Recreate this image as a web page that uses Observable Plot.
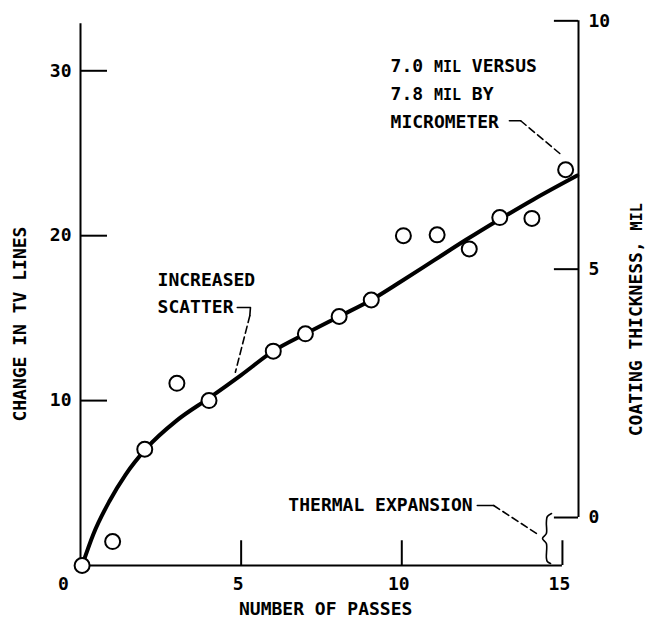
<!DOCTYPE html>
<html><head><meta charset="utf-8">
<script src="https://cdn.jsdelivr.net/npm/d3@7"></script>
<script src="https://cdn.jsdelivr.net/npm/@observablehq/plot@0.6"></script>
<style>body{margin:0;background:#fff} svg{display:block}</style>
</head><body><div id="chart"></div>
<script>
// Measured data
const passes  = [0.05, 1, 2, 3, 4, 6, 7, 8.05, 9.05, 10.05, 11.1, 12.1, 13.05, 14.05, 15.1];
const tvLines = [0, 1.45, 7.05, 11.05, 10.0, 13.0, 14.05, 15.1, 16.1, 20.0, 20.05, 19.2, 21.1, 21.05, 24.0];
// Fitted curve
const fitPasses = [0.05, 0.4, 0.9, 1.4, 2.05, 3.0, 4.0, 5.0, 6.0, 7.0, 8.05, 9.05, 10.0, 11.0, 12.0, 13.05, 14.1, 15.46];
const fitTv     = [0, 1.9, 3.9, 5.5, 7.1, 8.8, 10.15, 11.55, 13.0, 14.05, 15.1, 16.1, 17.25, 18.5, 19.75, 21.0, 22.2, 23.65];
// Axes
const xMax = 15.5, yMax = 33.05, yAxisTop = 32.85;
const xTicks = [5, 10, 15];
const xTickLabels = [0, 5, 10, 15];
const yTicks = [10, 20, 30];
const milTicks = [0, 5, 10];
const milZeroTv = 2.91, tvPerMil = 3.012;   // right axis: coating thickness, mil
const tickLenX = 0.84, tickLenY = 1.5, tickLenR = 0.75;
const xTitle = "NUMBER OF PASSES";
const yTitle = "CHANGE IN TV LINES";
const y2Title = "COATING THICKNESS, MIL";
// Annotations
const noteText = ["INCREASED", "SCATTER", "7.0 MIL VERSUS", "7.8 MIL BY", "MICROMETER", "THERMAL EXPANSION"];
const noteX = [2.4, 2.4, 9.65, 9.65, 9.65, 6.47];
const noteY = [17.3, 15.67, 30.28, 28.55, 26.9, 3.64];
const leaderSolid = [
  {x: [4.88, 5.29, 5.27], y: [15.65, 15.65, 15.15]},
  {x: [13.35, 13.7], y: [26.97, 26.97]},
  {x: [12.35, 12.86], y: [3.64, 3.64]}
];
const leaderDashed = [
  {x: [5.27, 4.82], y: [15.15, 11.72]},
  {x: [13.7, 15.0], y: [26.97, 24.85]},
  {x: [12.86, 14.21], y: [3.64, 1.92]}
];
const braceX = [14.66, 14.53, 14.5, 14.5, 14.38, 14.5, 14.5, 14.53, 14.63];
const braceY = [3.15, 2.97, 2.61, 1.94, 1.64, 1.33, 0.48, 0.24, 0.12];

const points = passes.map((x, i) => ({x, y: tvLines[i]}));
const fit = fitPasses.map((x, i) => ({x, y: fitTv[i]}));
const notes = noteText.map((t, i) => ({t, x: noteX[i], y: noteY[i]}));
const toSeg = arr => arr.flatMap((s, k) => s.x.map((x, i) => ({x, y: s.y[i], k})));
const brace = braceX.map((x, i) => ({x, y: braceY[i]}));
const milToTv = m => milZeroTv + m * tvPerMil;

const font = "DejaVu Sans Mono, monospace";
const fw = "bold";
const chart = Plot.plot({
  width: 645, height: 626,
  marginLeft: 80, marginRight: 67, marginTop: 20, marginBottom: 61,
  x: {domain: [0, xMax], axis: null},
  y: {domain: [0, yMax], axis: null},
  style: {fontFamily: font, fontSize: "18px", color: "black", background: "white"},
  marks: [
    // left axis
    Plot.ruleX([0], {y1: 0, y2: yAxisTop, strokeWidth: 2}),
    Plot.ruleY(yTicks, {y: d => d, x1: 0, x2: tickLenX, strokeWidth: 2}),
    Plot.text(yTicks, {y: d => d, frameAnchor: "left", textAnchor: "end", dx: -9, text: d => String(d), fontSize: 18, fontWeight: fw}),
    // bottom axis
    Plot.ruleY([0], {x1: 0, x2: 15, strokeWidth: 2}),
    Plot.ruleX(xTicks, {x: d => d, y1: 0, y2: tickLenY, strokeWidth: 2}),
    Plot.text(xTickLabels.filter(d => d === 0), {x: d => d, frameAnchor: "bottom", textAnchor: "middle", dy: 24, dx: -17, text: d => String(d), fontSize: 18, fontWeight: fw}),
    Plot.text(xTickLabels.filter(d => d !== 0), {x: d => d, frameAnchor: "bottom", textAnchor: "middle", dy: 24, dx: -3, text: d => String(d), fontSize: 18, fontWeight: fw}),
    // right axis (coating thickness)
    Plot.ruleX([xMax], {y1: milToTv(0), y2: milToTv(10), strokeWidth: 2}),
    Plot.ruleY(milTicks, {y: d => milToTv(d), x1: xMax - tickLenR, x2: xMax, strokeWidth: 2}),
    Plot.text(milTicks, {y: d => milToTv(d), frameAnchor: "right", textAnchor: "start", dx: 10, text: d => String(d), fontSize: 18, fontWeight: fw}),
    // axis titles
    Plot.text([xTitle], {frameAnchor: "bottom", textAnchor: "middle", x: 7.63, dy: 49, fontSize: 18, fontWeight: fw}),
    Plot.text([yTitle], {frameAnchor: "left", textAnchor: "middle", y: 14.64, dx: -60, rotate: -90, fontSize: 18, fontWeight: fw}),
    Plot.text([y2Title], {frameAnchor: "right", textAnchor: "middle", y: 14.9, dx: 58, rotate: -90, fontSize: 18, fontWeight: fw}),
    // curve and points
    Plot.line(fit, {x: "x", y: "y", curve: "monotone-x", strokeWidth: 4}),
    Plot.dot(points, {x: "x", y: "y", r: 7.5, fill: "white", stroke: "black", strokeWidth: 2}),
    // annotations
    Plot.text(notes, {x: "x", y: "y", text: "t", textAnchor: "start", fontSize: 18, fontWeight: fw}),
    Plot.line(toSeg(leaderSolid), {x: "x", y: "y", z: "k", strokeWidth: 1.6}),
    Plot.line(toSeg(leaderDashed), {x: "x", y: "y", z: "k", strokeWidth: 1.6, strokeDasharray: "7,4"}),
    Plot.line(brace, {x: "x", y: "y", curve: "catmull-rom", strokeWidth: 1.6})
  ]
});

// small capitals for the unit "MIL"
chart.querySelectorAll("text").forEach(t => {
  const spans = t.querySelectorAll("tspan");
  const targets = spans.length ? [...spans] : [t];
  targets.forEach(el => {
    const s = el.textContent;
    if (!s.includes("MIL")) return;
    const parts = s.split("MIL");
    el.textContent = "";
    parts.forEach((p, i) => {
      if (i > 0) {
        const ts = document.createElementNS("http://www.w3.org/2000/svg", "tspan");
        ts.setAttribute("font-size", "15");
        ts.textContent = "MIL";
        el.appendChild(ts);
      }
      el.appendChild(document.createTextNode(p));
    });
  });
});
document.getElementById("chart").appendChild(chart);
</script>
</body></html>
